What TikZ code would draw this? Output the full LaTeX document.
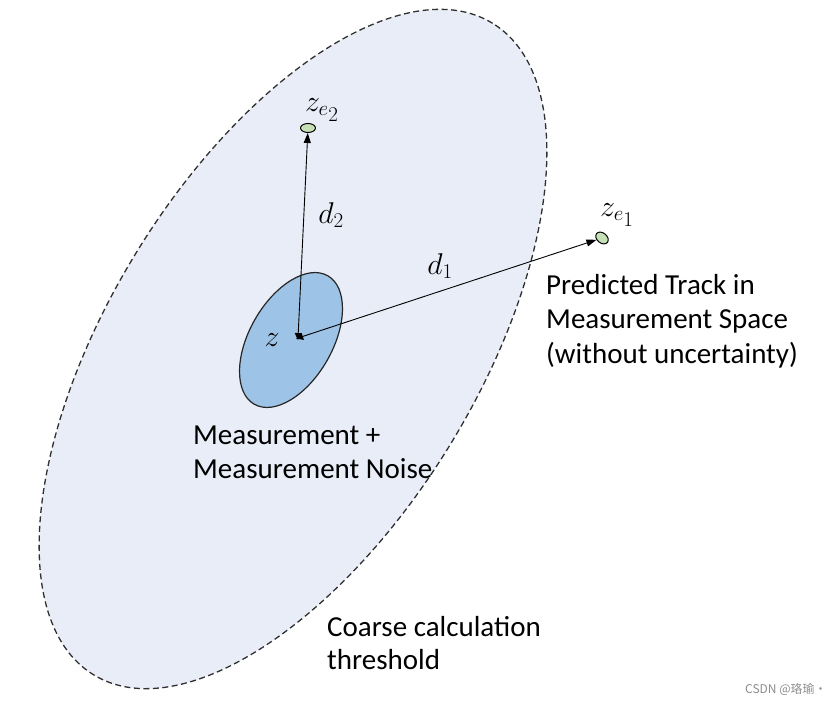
\RequirePackage{fix-cm}
\documentclass[tikz,border=0pt]{standalone}
\usepackage{fontspec}
\setmainfont{Carlito}
\newfontfamily\cjkfont{Noto Sans CJK SC}
\usetikzlibrary{shapes.geometric,arrows.meta}
\definecolor{gatefill}{HTML}{E9EDF7}
\definecolor{noisefill}{HTML}{9DC3E6}
\definecolor{trackfill}{HTML}{C5E0B4}
\definecolor{dashcol}{HTML}{303030}
\tikzset{
  lbl/.style={inner sep=0pt, anchor=base west, font=\fontsize{29}{34}\selectfont},
  mathlbl/.style={inner sep=0pt, font=\fontsize{30}{36}\selectfont},
  track/.style={ellipse, draw=black, line width=1pt, fill=trackfill, inner sep=0pt, minimum width=15pt, minimum height=9pt},
  distarrow/.style={line width=0.9pt, {Triangle[length=7pt,width=7pt]}-{Triangle[length=10pt,width=7pt]}, shorten <=-2pt}
}
\begin{document}
\begin{tikzpicture}[x=1pt,y=1pt]
\useasboundingbox (0,0) rectangle (835,702);
% coarse gate
\draw[fill=gatefill, draw=dashcol, line width=1.3pt, dash pattern=on 6pt off 3.5pt] (293,353) ellipse[x radius=382, y radius=184, rotate=58.5];
% measurement noise
\draw[fill=noisefill, draw=black!85, line width=1.2pt] (291,362) ellipse[x radius=74, y radius=41.5, rotate=60.2];
\coordinate (z) at (298,364);
\node[track] (ze2) at (308,574) {};
\node[track, rotate=-40, minimum width=14pt, minimum height=10pt] (ze1) at (602,464) {};
\draw[distarrow] (z) -- (ze2);
\draw[distarrow] (z) -- (ze1);
% labels
\node[mathlbl] (zlab) at (272,362) {$z$};
\node[mathlbl] (ze2lab) at (322,592) {$z_{e_{\scriptstyle 2}}$};
\node[mathlbl] (ze1lab) at (617,487) {$z_{e_{\scriptstyle 1}}$};
\node[mathlbl] (d2lab) at (331,487) {$d_2$};
\node[mathlbl] (d1lab) at (440,436) {$d_1$};
\node[lbl] (predA) at (546,407) {Predicted Track in};
\node[lbl] (predB) at (546,373) {Measurement Space};
\node[lbl] (predC) at (546,338) {(without uncertainty)};
\node[lbl] (measA) at (193,257) {Measurement +};
\node[lbl] (measB) at (193,224) {Measurement Noise};
\node[lbl] (coarseA) at (327,66) {Coarse calculation};
\node[lbl] (coarseB) at (327,33) {threshold};
\node[inner sep=0pt, anchor=base west, text=black!45, font=\cjkfont\fontsize{12}{14}\selectfont] (wm) at (745,9) {CSDN @珞瑜·};
\end{tikzpicture}
\end{document}
